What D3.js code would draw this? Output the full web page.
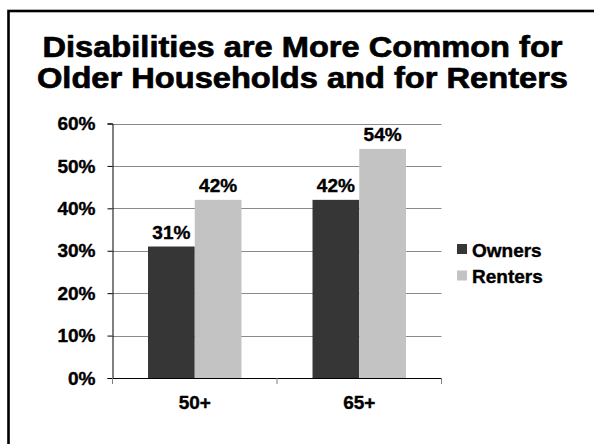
<!DOCTYPE html>
<html>
<head>
<meta charset="utf-8">
<script src="https://cdn.jsdelivr.net/npm/d3@7/dist/d3.min.js"></script>
<style>
  html, body { margin: 0; padding: 0; background: #fff; }
  svg { display: block; font-family: "Liberation Sans", Arial, sans-serif; }
</style>
</head>
<body>
<svg id="chart" width="594" height="444"></svg>
<script>
// Share of households with a disability, by age group and tenure
const categories = ["50+", "65+"];
const seriesNames = ["Owners", "Renters"];
const owners = [0.31, 0.42];
const renters = [0.42, 0.54];
const yTickValues = [0, 0.1, 0.2, 0.3, 0.4, 0.5, 0.6];
const titleLines = ["Disabilities are More Common for", "Older Households and for Renters"];

const colors = { Owners: "#363636", Renters: "#c3c3c3" };
const FONT = "\"Liberation Sans\", Arial, sans-serif";

const svg = d3.select("#chart");

// heavy bold text helper
function heavy(sel, size, stroke) {
  sel.attr("font-family", FONT)
    .attr("font-size", size)
    .attr("font-weight", "bold")
    .attr("fill", "#000")
    .attr("stroke", "#000")
    .attr("stroke-width", stroke)
    .attr("stroke-linejoin", "round");
}

// slide frame
svg.append("rect")
  .attr("x", 8.5).attr("y", 11)
  .attr("width", 620).attr("height", 460)
  .attr("fill", "none").attr("stroke", "#000").attr("stroke-width", 2.6);

// title
const titleLayout = [{ y: 56.5, len: 520 }, { y: 87.5, len: 531 }];
svg.append("g").selectAll("text")
  .data(titleLines)
  .join("text")
  .attr("x", 302.5)
  .attr("y", (d, i) => titleLayout[i].y)
  .attr("text-anchor", "middle")
  .attr("textLength", (d, i) => titleLayout[i].len)
  .attr("lengthAdjust", "spacingAndGlyphs")
  .call(heavy, 29, 0.7)
  .text(d => d);

// scales
const plot = { left: 112.5, right: 441.5, top: 123.5, bottom: 378 };
const y = d3.scaleLinear().domain([0, 0.6]).range([plot.bottom, plot.top]);
const x0 = d3.scaleBand().domain(categories).range([plot.left, plot.right]).padding(0);
const x1 = d3.scaleBand().domain(seriesNames).range([0, x0.bandwidth()])
  .paddingInner(0).paddingOuter(0.76);

// gridlines
svg.append("g")
  .selectAll("line")
  .data(yTickValues.filter(v => v > 0))
  .join("line")
  .attr("x1", plot.left).attr("x2", plot.right)
  .attr("y1", d => Math.round(y(d)) + 0.5).attr("y2", d => Math.round(y(d)) + 0.5)
  .attr("stroke", "#8a8a8a").attr("stroke-width", 1);

// bars
const rows = categories.map((c, i) => ({ category: c, values: [
  { series: "Owners", value: owners[i] },
  { series: "Renters", value: renters[i] }
]}));

const groups = svg.append("g").selectAll("g")
  .data(rows)
  .join("g")
  .attr("transform", d => `translate(${x0(d.category)},0)`);

groups.selectAll("rect")
  .data(d => d.values)
  .join("rect")
  .attr("x", d => x1(d.series))
  .attr("width", x1.bandwidth())
  .attr("y", d => y(d.value))
  .attr("height", d => y(0) - y(d.value))
  .attr("fill", d => colors[d.series]);

// value labels
groups.selectAll("text")
  .data(d => d.values)
  .join("text")
  .attr("x", d => x1(d.series) + x1.bandwidth() / 2)
  .attr("y", d => y(d.value) - 7.5)
  .attr("text-anchor", "middle")
  .call(heavy, 19, 0.4)
  .text(d => d3.format(".0%")(d.value));

// y axis
const yAxis = svg.append("g")
  .attr("transform", `translate(${plot.left},0)`)
  .call(d3.axisLeft(y).tickValues(yTickValues).tickFormat(d3.format(".0%"))
    .tickSize(5).tickPadding(12));
yAxis.select(".domain").attr("stroke", "#000");
yAxis.selectAll(".tick line").attr("stroke", "#000");
yAxis.selectAll(".tick text").call(heavy, 19, 0.4);

// x axis: baseline, category separators and labels
const xAxis = svg.append("g")
  .attr("transform", `translate(0,${plot.bottom})`)
  .call(d3.axisBottom(x0).tickSize(0).tickPadding(17.5));
xAxis.select(".domain").attr("stroke", "#000").attr("stroke-width", 1.2);
xAxis.selectAll(".tick text").call(heavy, 19, 0.4);

const separators = [plot.left, ...categories.map(c => x0(c) + x0.bandwidth())];
xAxis.append("g").selectAll("line")
  .data(separators)
  .join("line")
  .attr("x1", d => d).attr("x2", d => d)
  .attr("y1", 0).attr("y2", 6)
  .attr("stroke", "#808080");

// legend
const legend = svg.append("g").attr("transform", "translate(457,244)");
const items = legend.selectAll("g")
  .data(seriesNames)
  .join("g")
  .attr("transform", (d, i) => `translate(0,${i * 26.5})`);
items.append("rect")
  .attr("width", 10).attr("height", 10)
  .attr("fill", d => colors[d]);
items.append("text")
  .attr("x", 15).attr("y", 12.5)
  .call(heavy, 19, 0.4)
  .text(d => d);
</script>
</body>
</html>
